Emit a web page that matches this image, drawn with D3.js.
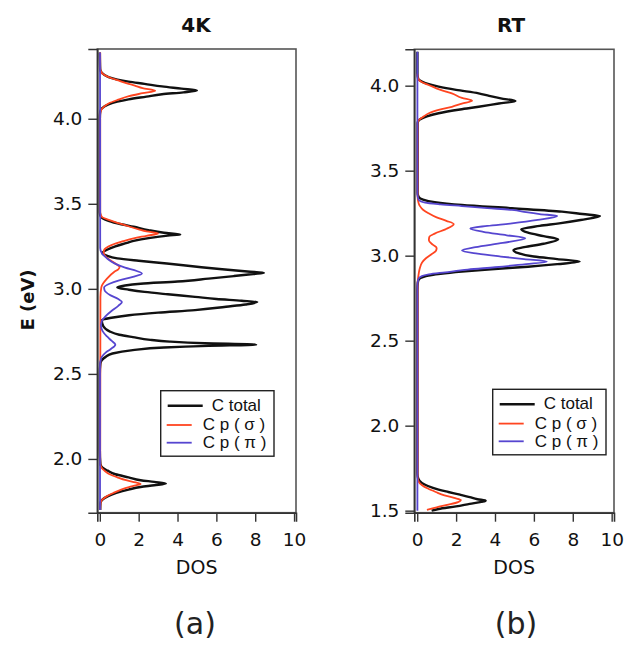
<!DOCTYPE html>
<html>
<head>
<meta charset="utf-8">
<script src="https://cdn.jsdelivr.net/npm/d3@7"></script>
<style>
  body { margin: 0; background: #fff; }
  svg { display: block; font-family: 'DejaVu Sans', sans-serif; }
</style>
</head>
<body>
<div id="chart"></div>
<script>
// [E (eV), DOS] points

// (a) 4K
const total4K = [
    [1.70,0.02],[1.74,0.03],[1.76,0.12],[1.78,0.4],[1.80,0.85],[1.82,1.48],[1.835,2.1],[1.845,2.8],[1.855,3.4],
    [1.865,2.8],[1.875,2.1],[1.892,1.48],[1.91,0.8],[1.931,0.4],[1.95,0.12],[1.97,0.03],[2.05,0],
    [2.50,0],[2.56,0.03],[2.58,0.1],[2.60,0.3],[2.62,0.65],[2.64,1.7],[2.655,3.3],[2.665,5.6],[2.672,8.05],
    [2.68,5.4],[2.69,3.6],[2.70,2.6],[2.716,1.7],[2.73,1.0],[2.75,0.5],[2.78,0.18],[2.815,0.1],
    [2.83,0.6],[2.845,1.5],[2.86,3.0],[2.875,4.9],[2.895,6.5],[2.908,7.5],[2.922,8.1],[2.93,7.3],[2.94,6.0],
    [2.953,4.9],[2.968,3.5],[2.982,2.3],[2.995,1.5],[3.008,0.9],
    [3.02,1.3],[3.03,2.1],[3.043,4.0],[3.06,5.6],[3.075,6.9],[3.087,7.9],[3.094,8.45],[3.102,7.6],[3.115,6.3],
    [3.13,5.0],[3.149,3.45],[3.165,2.0],[3.179,0.9],[3.195,0.35],[3.21,0.12],
    [3.23,0.37],[3.25,0.8],[3.27,1.4],[3.282,1.74],[3.30,2.6],[3.313,3.5],[3.32,4.14],[3.33,3.3],[3.345,2.5],
    [3.365,1.74],[3.38,1.1],[3.40,0.45],[3.424,0.05],[3.45,0],
    [4.00,0],[4.04,0.02],[4.06,0.1],[4.085,0.45],[4.114,1.48],[4.13,2.4],[4.144,3.2],[4.155,4.3],[4.166,5.0],
    [4.177,4.2],[4.19,3.2],[4.205,2.3],[4.218,1.48],[4.245,0.45],[4.27,0.1],[4.29,0.02],[4.39,0]
];
const sigma4K = [
    [1.70,0.02],[1.74,0.04],[1.76,0.12],[1.78,0.35],[1.80,0.7],[1.82,1.1],[1.835,1.5],[1.845,1.85],[1.853,2.1],
    [1.862,1.85],[1.875,1.35],[1.892,0.9],[1.91,0.5],[1.93,0.25],[1.95,0.08],[1.98,0.02],[2.05,0.02],
    [2.95,0.03],[3.01,0.08],[3.06,0.37],[3.10,0.75],[3.115,0.95],[3.128,1.02],[3.145,0.85],[3.168,0.54],
    [3.19,0.3],[3.21,0.2],[3.228,0.22],[3.257,0.6],[3.28,1.2],[3.297,1.74],[3.312,2.4],[3.326,3.0],[3.338,2.4],
    [3.35,2.0],[3.365,1.55],[3.385,1.0],[3.404,0.5],[3.424,0.1],[3.45,0.02],
    [4.03,0.02],[4.06,0.12],[4.09,0.45],[4.112,0.95],[4.133,1.5],[4.15,2.2],[4.165,2.85],[4.18,2.2],[4.195,1.8],
    [4.208,1.4],[4.225,0.95],[4.238,0.6],[4.26,0.2],[4.28,0.05],[4.30,0.02],[4.39,0.02]
];
const pi4K = [
    [1.70,0.01],[2.55,0.01],[2.58,0.04],[2.60,0.1],[2.625,0.3],[2.645,0.55],[2.672,0.8],[2.695,0.6],[2.72,0.37],
    [2.75,0.15],[2.78,0.06],[2.81,0.1],[2.84,0.3],[2.87,0.6],[2.90,0.95],[2.922,1.14],[2.94,0.95],[2.965,0.5],
    [2.99,0.25],[3.008,0.22],[3.03,0.5],[3.05,1.0],[3.07,1.7],[3.09,2.17],[3.105,1.9],[3.125,1.3],[3.15,0.75],
    [3.179,0.37],[3.21,0.1],[3.24,0.02],[4.39,0.01]
];

// (b) RT
const totalRT = [
    [1.50,0.74],[1.51,1.1],[1.525,2.0],[1.54,2.7],[1.552,3.3],[1.559,3.52],[1.567,3.1],[1.58,2.7],[1.594,2.2],
    [1.61,1.6],[1.624,1.1],[1.645,0.55],[1.663,0.24],[1.69,0.05],[1.72,0.01],
    [2.80,0.01],[2.84,0.03],[2.86,0.08],[2.87,0.2],[2.88,0.45],[2.893,1.2],[2.906,2.3],[2.92,3.8],[2.935,5.7],
    [2.95,7.2],[2.965,8.35],[2.98,7.2],[2.995,6.0],[3.015,5.2],[3.034,4.95],[3.05,5.5],[3.07,6.5],[3.096,7.25],
    [3.115,6.5],[3.135,5.7],[3.155,5.35],[3.175,6.3],[3.19,7.3],[3.21,8.4],[3.233,9.4],[3.245,8.5],[3.259,7.44],
    [3.279,4.87],[3.298,2.3],[3.315,0.9],[3.33,0.3],[3.347,0.07],[3.37,0.02],
    [3.78,0.02],[3.80,0.12],[3.808,0.24],[3.82,0.5],[3.838,1.1],[3.86,2.2],[3.876,3.16],[3.895,4.2],[3.91,5.05],
    [3.925,4.3],[3.94,3.7],[3.955,3.16],[3.975,2.0],[3.994,1.1],[4.01,0.55],[4.024,0.24],[4.04,0.05],[4.07,0.01],[4.20,0.01]
];
const sigmaRT = [
    [1.505,0.5],[1.52,1.0],[1.535,1.6],[1.55,2.1],[1.562,2.25],[1.575,1.9],[1.59,1.4],[1.61,0.95],[1.63,0.55],
    [1.65,0.25],[1.67,0.08],[1.70,0.02],
    [2.84,0.02],[2.88,0.06],[2.92,0.12],[2.96,0.25],[2.985,0.45],[3.01,0.75],[3.03,0.97],[3.045,1.0],[3.065,0.8],
    [3.09,0.6],[3.11,0.62],[3.13,0.9],[3.155,1.45],[3.175,1.8],[3.186,1.88],[3.205,1.5],[3.225,1.0],[3.249,0.59],
    [3.27,0.3],[3.29,0.15],[3.31,0.07],[3.35,0.02],
    [3.78,0.02],[3.80,0.1],[3.82,0.35],[3.838,0.6],[3.86,1.2],[3.876,1.78],[3.895,2.3],[3.912,2.82],[3.928,2.3],
    [3.955,1.78],[3.975,1.2],[4.004,0.59],[4.02,0.25],[4.04,0.05],[4.07,0.01]
];
const piRT = [
    [1.50,0.01],[2.82,0.01],[2.86,0.05],[2.88,0.24],[2.89,0.6],[2.902,1.44],[2.918,2.6],[2.932,4.0],[2.95,5.6],
    [2.965,6.67],[2.98,5.5],[2.995,4.3],[3.012,3.1],[3.03,2.3],[3.05,3.0],[3.075,4.4],[3.102,5.56],[3.12,4.6],
    [3.14,3.4],[3.16,2.73],[3.175,3.6],[3.19,4.87],[3.21,6.2],[3.233,7.2],[3.245,6.3],[3.256,5.6],[3.269,4.87],
    [3.28,3.6],[3.292,2.3],[3.302,1.2],[3.312,0.41],[3.33,0.07],[3.36,0.01],[4.20,0.01]
];

const dosTicks = [0, 2, 4, 6, 8, 10];
const eTicks4K = [2.0, 2.5, 3.0, 3.5, 4.0];
const eTicksRT = [1.5, 2.0, 2.5, 3.0, 3.5, 4.0];
const legendLabels = ['C total', 'C p ( σ )', 'C p ( π )'];
const colors = ['#111111', '#ff4520', '#5646d0'];

const W = 627, H = 645;

const svg = d3.select('div#chart')
    .append('svg')
    .attr('width', W)
    .attr('height', H);

svg.append('rect').attr('width', W).attr('height', H).attr('fill', '#fff');

drawPanel({
    title: '4K', tag: '(a)',
    series: [total4K, sigma4K, pi4K],
    eDomain: [1.684, 4.41], eTicks: eTicks4K,
    left: 97.3, right: 296, top: 49, bottom: 512.7,
    xDomain: [-0.13, 10.1],
    titleX: 196, tagX: 195,
    legend: [160.7, 390.7]
});

drawPanel({
    title: 'RT', tag: '(b)',
    series: [totalRT, sigmaRT, piRT],
    eDomain: [1.488, 4.214], eTicks: eTicksRT,
    left: 414.3, right: 614, top: 49.3, bottom: 512.7,
    xDomain: [-0.15, 10.12],
    titleX: 511, tagX: 516,
    legend: [492.7, 389.3]
});

// y axis title (only once, on the left)
svg.append('text')
    .attr('transform', 'translate(34,300) rotate(-90)')
    .attr('text-anchor', 'middle')
    .style('font-size', '18px')
    .style('font-weight', 'bold')
    .style('fill', '#111')
    .text('E (eV)');

function drawPanel(cfg) {
    const x = d3.scaleLinear().domain(cfg.xDomain).range([cfg.left, cfg.right]);
    const y = d3.scaleLinear().domain(cfg.eDomain).range([cfg.bottom, cfg.top]);
    const g = svg.append('g');

    // frame
    g.append('rect')
        .attr('x', cfg.left).attr('y', cfg.top)
        .attr('width', cfg.right - cfg.left)
        .attr('height', cfg.bottom - cfg.top)
        .attr('fill', 'none')
        .attr('stroke', '#555')
        .attr('stroke-width', 1.6);

    const line = d3.line()
        .x(d => x(d[1]))
        .y(d => y(d[0]))
        .curve(d3.curveMonotoneY);

    cfg.series.forEach((s, i) => {
        const pts = s.slice().sort((a, b) => b[0] - a[0]);
        g.append('path')
            .attr('d', line(pts))
            .attr('fill', 'none')
            .attr('stroke', colors[i])
            .attr('stroke-width', i == 0 ? 2.4 : 1.8)
            .attr('stroke-linejoin', 'round');
    });

    // axes
    const yAxis = g.append('g')
        .attr('transform', `translate(${cfg.left},0)`)
        .call(d3.axisLeft(y).tickValues(cfg.eTicks).tickFormat(d3.format('.1f')).tickSize(9).tickPadding(6));
    const xAxis = g.append('g')
        .attr('transform', `translate(0,${cfg.bottom})`)
        .call(d3.axisBottom(x).tickValues(dosTicks).tickSize(9).tickPadding(11));

    [yAxis, xAxis].forEach(ax => {
        ax.select('.domain').attr('stroke', '#333').attr('stroke-width', 1.6);
        ax.selectAll('.tick line').attr('stroke', '#333').attr('stroke-width', 1.4);
        ax.selectAll('.tick text')
            .style('font-family', "'DejaVu Sans', sans-serif")
            .style('font-size', '18.5px')
            .style('fill', '#111');
    });

    // title
    g.append('text')
        .attr('x', cfg.titleX).attr('y', 32)
        .attr('text-anchor', 'middle')
        .style('font-size', '20px')
        .style('font-weight', 'bold')
        .style('fill', '#111')
        .text(cfg.title);

    g.append('text')
        .attr('x', (cfg.left + cfg.right) / 2).attr('y', 574)
        .attr('text-anchor', 'middle')
        .style('font-size', '19px')
        .style('fill', '#111')
        .text('DOS');

    g.append('text')
        .attr('x', cfg.tagX).attr('y', 634)
        .attr('text-anchor', 'middle')
        .style('font-size', '30px')
        .style('fill', '#222')
        .text(cfg.tag);

    // legend
    const [lx, ly] = cfg.legend;
    const lg = g.append('g').attr('transform', `translate(${lx},${ly})`);
    lg.append('rect')
        .attr('width', 113.3).attr('height', 65.5)
        .attr('fill', '#fff')
        .attr('stroke', '#222')
        .attr('stroke-width', 1.4);

    const rows = [
        {x1: 7, x2: 42, ly: 15, tx: 51, ty: 20},
        {x1: 6, x2: 31, ly: 34.3, tx: 42, ty: 39.3},
        {x1: 6, x2: 31, ly: 52, tx: 42, ty: 57.6}
    ];
    rows.forEach((r, i) => {
        lg.append('line')
            .attr('x1', r.x1).attr('x2', r.x2)
            .attr('y1', r.ly).attr('y2', r.ly)
            .attr('stroke', colors[i])
            .attr('stroke-width', i == 0 ? 2.4 : 1.8);
        lg.append('text')
            .attr('x', r.tx).attr('y', r.ty)
            .style('font-family', "'Liberation Sans', Arial, sans-serif")
            .style('font-size', '17px')
            .style('fill', '#111')
            .text(legendLabels[i]);
    });
}
</script>
</body>
</html>
